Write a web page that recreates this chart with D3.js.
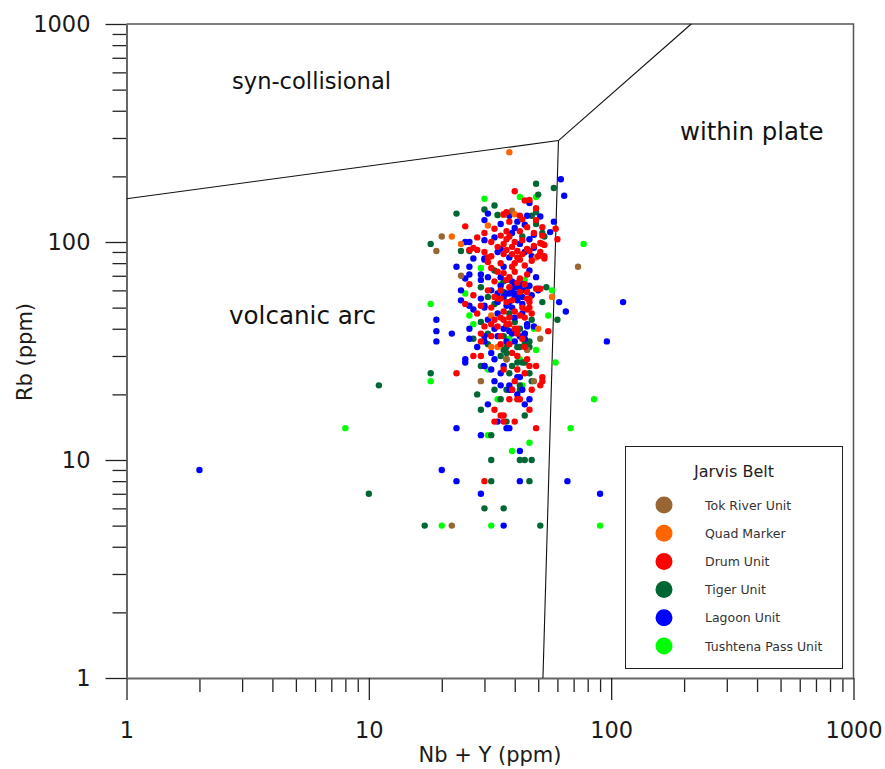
<!DOCTYPE html>
<html>
<head>
<meta charset="utf-8">
<script src="https://cdn.jsdelivr.net/npm/d3@7"></script>
<style>
  body { margin: 0; background: #fff; }
  text { font-family: "DejaVu Sans", sans-serif; }
</style>
</head>
<body>
<script>
// Nb + Y vs Rb discrimination diagram, Jarvis Belt samples
var majorTicks = [1, 10, 100, 1000];
var seriesNames = ['Tok River Unit', 'Quad Marker', 'Drum Unit', 'Tiger Unit', 'Lagoon Unit', 'Tushtena Pass Unit'];
var seriesColors = ['#996633', '#ff6600', '#ff0000', '#006633', '#0000ff', '#00ff00'];

// [Nb + Y, Rb] in ppm
var tokRiver = [[20,106],[19,91],[39,139],[24,70],[51,36],[37,29],[45,32],[29,23],[48,23],[22,5],[73,77]];

var quadMarker = [[38,258],[40,134],[36,133],[31,119],[22,106],[24,98],[57,56],[32,46],[50,40],[32,33],[34,33],[49,85]];

var drumUnit = [[40,171],[44,155],[46,156],[49,143],[36,134],[37,137],[42,132],[43,127],[38,124],[49,126],
    [25,118],[45,117],[52,117],[59,115],[33,115],[37,112],[42,112],[52,107],[60,103],[32,100],[37,103],[38,106],
    [40,100],[52,98],[26,92],[27,94],[28,92],[31,85],[32,86],[36,88],[37,92],[41,91],[41,85],[45,93],[48,96],
    [46,91],[31,81],[32,76],[39,77],[35,80],[42,83],[50,86],[53,84],[34,73],[26,64],[38,69],[42,68],[45,71],
    [37,67],[49,61],[51,61],[27,57],[33,56],[42,59],[45,59],[45,55],[25,52],[32,50],[46,53],[51,99],[53,97],
    [51,90],[53,86],[34,55],[35,55],[37,53],[39,54],[43,50],[45,49],[46,55],[46,50],[55,39],[29,38],[32,42],
    [29,51],[35,45],[36,44],[37,42],[38,42],[40,40],[41,40],[35,37],[32,37],[29,35],[35,34],[38,34],[27,30],
    [29,30],[46,27],[49,27],[41,26],[23,25],[52,23],[51,22],[41,19],[42,19],[33,17],[35,16],[36,16],[33,15],
    [40,15],[49,14],[41,38],[44,33],[38,19],[30,8],[36,15],[52,24],[46,17],[39,21],[34,95],[36,98],[39,95],
    [43,88],[40,80],[44,78],[36,72],[40,73],[30,90],[47,82],[38,62],[35,60],[41,65],[44,64],[33,66],[39,88],
    [43,102],[35,107],[48,110],[30,110],[28,105],[31,60],[28,47],[33,44],[30,41],[44,45],[47,47],[40,48],
    [36,48],[42,46],[38,45],[34,41],[43,36],[39,31],[45,29],[41,30],[36,26],[40,23],[47,21],[44,25]];

var tigerUnit = [[49,185],[58,177],[50,165],[33,147],[30,141],[23,135],[34,133],[47,132],[49,121],[52,110],
    [18,98],[43,106],[24,91],[26,91],[29,62],[33,74],[54,62],[36,59],[42,57],[52,53],[49,137],[53,106],[60,44],
    [29,43],[37,41],[42,40],[31,34],[41,33],[42,33],[36,32],[35,30],[46,35],[44,34],[41,28],[43,28],[44,28],
    [29,27],[30,27],[38,25],[18,25],[47,23],[42,22],[42,21],[28,20],[35,19],[29,17],[37,15],[44,16],[37,29],
    [27,36],[36,37],[44,38],[44,35],[46,33],[37,31],[37,21],[37,33],[17,5],[51,5],[30,6],[36,6],[10,7],[32,8],
    [46,8],[32,10],[42,10],[44,10],[47,10],[32,13],[11,22],[33,52],[38,47],[40,43],[31,38],[47,44],[45,62],
    [36,66],[31,56],[39,27],[33,21],[46,25]];

var lagoonUnit = [[62,194],[64,163],[46,151],[31,135],[38,132],[45,132],[51,131],[30,126],[35,121],[41,124],
    [58,124],[40,116],[56,111],[48,108],[25,100],[26,100],[30,102],[42,98],[46,103],[30,84],[30,83],[23,77],
    [26,77],[36,77],[46,74],[49,69],[29,71],[26,71],[25,68],[31,69],[35,69],[40,64],[41,63],[29,67],[35,63],
    [46,63],[24,60],[29,55],[30,51],[37,51],[40,56],[50,60],[61,53],[26,51],[34,53],[38,53],[41,54],[43,52],
    [50,61],[65,48],[112,53],[96,35],[38,58],[40,57],[41,58],[43,56],[24,54],[27,49],[19,44],[19,39],[19,35],
    [22,38],[26,40],[26,36],[30,50],[34,47],[38,39],[34,37],[44,38],[44,36],[45,42],[45,41],[48,41],[30,35],
    [25,29],[25,28],[33,29],[30,27],[32,26],[36,27],[41,24],[42,24],[33,23],[35,22],[38,22],[39,21],[38,21],
    [46,19],[31,18],[44,18],[34,15],[23,14],[37,14],[38,14],[30,37],[39,38],[29,13],[43,21],[2,9],[20,9],
    [23,8],[42,8],[66,8],[29,7],[90,7],[36,5],[42,11],[39,60],[40,62],[42,61],[37,58],[44,60],[36,56],[43,64],
    [39,66],[38,85],[44,90],[34,90],[47,86],[33,105],[39,110],[44,120],[35,93],[27,84],[48,94],[32,60],[34,58],
    [31,44],[33,40],[28,33],[40,35],[42,37],[37,35],[43,47],[39,50],[36,40],[40,45],[47,57],[32,31],[35,25],[41,20]];

var tushtenaPass = [[42,161],[49,161],[30,158],[34,133],[77,98],[29,76],[25,58],[57,60],[18,52],[55,46],
    [26,46],[27,42],[42,29],[49,32],[59,28],[18,23],[43,22],[34,19],[85,19],[68,14],[8,14],[31,13],[39,11],
    [46,12],[20,5],[32,5],[90,5],[35,64],[44,67],[38,36],[31,26],[48,40]];

// field boundaries, [Nb + Y, Rb]
var synColBoundary = [[1,158],[60.6,292]];
var wpgUpperBoundary = [[60.6,292],[214,1000]];
var vagBoundary = [[60.6,292],[52.3,1]];

var seriesData = [tokRiver, quadMarker, drumUnit, tigerUnit, lagoonUnit, tushtenaPass];
var drawOrder = [5, 3, 4, 0, 1, 2];

var w = 885, h = 769;
var x = d3.scaleLog().domain([1, 1000]).range([126.5, 853.5]);
var y = d3.scaleLog().domain([1, 1000]).range([678, 24]);

var svg = d3.select("body").append("svg")
    .attr("width", w)
    .attr("height", h);

// minor tick values 2..9 per decade
var minorTicks = [];
for (var k = 0; k < 3; k++)
    for (var m = 2; m < 10; m++)
        minorTicks.push(m * Math.pow(10, k));

// frame (top + right)
svg.append("path")
    .attr("d", "M" + x(1) + "," + y(1000) + "H" + x(1000) + "V" + y(1))
    .attr("fill", "none")
    .attr("stroke", "#555")
    .attr("stroke-width", 1.5);

// minor ticks
svg.append("g")
    .attr("transform", "translate(0," + y(1) + ")")
    .call(d3.axisBottom(x).tickValues(minorTicks).tickSize(14).tickSizeOuter(0).tickFormat(""))
    .call(function(g) { g.select(".domain").remove(); });
svg.append("g")
    .attr("transform", "translate(" + x(1) + ",0)")
    .call(d3.axisLeft(y).tickValues(minorTicks).tickSize(14).tickSizeOuter(0).tickFormat(""))
    .call(function(g) { g.select(".domain").remove(); });

// major ticks + labels
var xAxis = svg.append("g")
    .attr("transform", "translate(0," + y(1) + ")")
    .call(d3.axisBottom(x).tickValues(majorTicks).tickSize(22).tickSizeOuter(0).tickPadding(22)
        .tickFormat(d3.format("d")));
var yAxis = svg.append("g")
    .attr("transform", "translate(" + x(1) + ",0)")
    .call(d3.axisLeft(y).tickValues(majorTicks).tickSize(21).tickSizeOuter(0).tickPadding(15)
        .tickFormat(d3.format("d")));

[xAxis, yAxis].forEach(function(g) {
    g.select(".domain").attr("stroke", "#666").attr("stroke-width", 2);
    g.selectAll(".tick text")
        .attr("font-family", "DejaVu Sans")
        .attr("font-size", "22.5px")
        .attr("fill", "#1a1a1a");
});
svg.selectAll(".tick line").attr("stroke", "#222").attr("stroke-width", 1.3);

// axis titles
svg.append("text")
    .attr("x", 490)
    .attr("y", 762)
    .attr("text-anchor", "middle")
    .attr("font-size", "21px")
    .attr("fill", "#1a1a1a")
    .text("Nb + Y (ppm)");
svg.append("text")
    .attr("transform", "translate(32,352) rotate(-90)")
    .attr("text-anchor", "middle")
    .attr("font-size", "21px")
    .attr("fill", "#1a1a1a")
    .text("Rb (ppm)");

// field boundaries
var line = d3.line()
    .x(function(d) { return x(d[0]); })
    .y(function(d) { return y(d[1]); });
svg.selectAll("path.field")
    .data([synColBoundary, wpgUpperBoundary, vagBoundary])
    .enter()
    .append("path")
    .attr("class", "field")
    .attr("d", line)
    .attr("fill", "none")
    .attr("stroke", "#111")
    .attr("stroke-width", 1.1);

// field names
svg.append("text").attr("x", 232).attr("y", 89).attr("font-size", "22.6px").attr("fill", "#111").text("syn-collisional");
svg.append("text").attr("x", 680).attr("y", 140).attr("font-size", "24.4px").attr("fill", "#111").text("within plate");
svg.append("text").attr("x", 229).attr("y", 324).attr("font-size", "24.6px").attr("fill", "#111").text("volcanic arc");

// samples
drawOrder.forEach(function(i) {
    svg.append("g").selectAll("circle")
        .data(seriesData[i])
        .enter()
        .append("circle")
        .attr("cx", function(d) { return x(d[0]); })
        .attr("cy", function(d) { return y(d[1]); })
        .attr("r", 3.2)
        .attr("fill", seriesColors[i]);
});

// legend
var legend = svg.append("g");
legend.append("rect")
    .attr("x", 625.5).attr("y", 446.5)
    .attr("width", 217).attr("height", 222)
    .attr("fill", "#fff")
    .attr("stroke", "#222")
    .attr("stroke-width", 1);
legend.append("text")
    .attr("x", 734).attr("y", 477)
    .attr("text-anchor", "middle")
    .attr("font-size", "16px")
    .attr("fill", "#222")
    .text("Jarvis Belt");
var items = legend.selectAll("g.item")
    .data(seriesNames)
    .enter()
    .append("g")
    .attr("class", "item")
    .attr("transform", function(d, i) { return "translate(0," + (505 + i * 28.2) + ")"; });
items.append("circle")
    .attr("cx", 664).attr("cy", 0).attr("r", 8.5)
    .attr("fill", function(d, i) { return seriesColors[i]; });
items.append("text")
    .attr("x", 705).attr("y", 4.5)
    .attr("font-size", "12.5px")
    .attr("fill", "#333")
    .text(function(d) { return d; });
</script>
</body>
</html>
